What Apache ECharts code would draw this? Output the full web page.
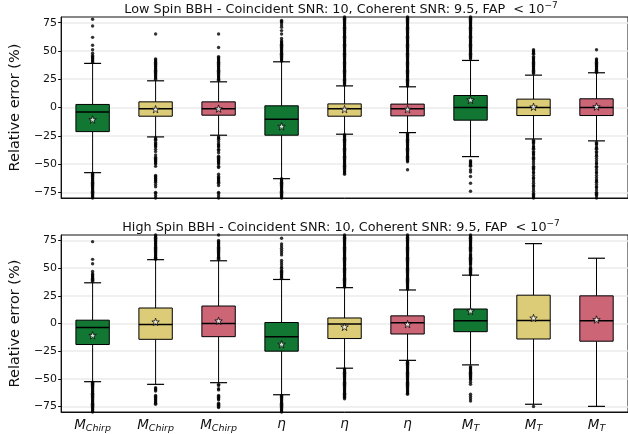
<!DOCTYPE html>
<html>
<head>
<meta charset="utf-8">
<script src="https://cdn.jsdelivr.net/npm/echarts@6/dist/echarts.min.js"></script>
<style>
html, body { margin: 0; padding: 0; background: #fff; }
#chart { width: 628px; height: 434px; }
</style>
</head>
<body>
<div id="chart"></div>
<script>
// Parameter labels along the x axis
const categories = ['M_Chirp', 'M_Chirp', 'M_Chirp', 'eta', 'eta', 'eta', 'M_T', 'M_T', 'M_T'];
const yTicks = [-75, -50, -25, 0, 25, 50, 75];
const boxColors = ['#117733', '#DDCC77', '#CC6677', '#117733', '#DDCC77', '#CC6677', '#117733', '#DDCC77', '#CC6677'];

// Low spin BBH: [lower whisker, Q1, median, Q3, upper whisker]
const lowSpinBoxes = [
  [-57.6, -21.3, -3.9, 2.7, 39.0],
  [-26.0, -7.7, -1.0, 5.0, 23.6],
  [-24.5, -6.8, -1.0, 5.0, 22.7],
  [-62.9, -24.5, -10.4, 1.5, 40.4],
  [-23.6, -7.7, -1.0, 3.2, 19.1],
  [-22.2, -7.4, -1.0, 3.0, 18.3],
  [-43.4, -11.2, 0.0, 10.6, 41.6],
  [-27.8, -7.1, 0.0, 7.4, 28.6],
  [-29.5, -7.1, 0.0, 7.7, 30.7]
];
const lowSpinMeans = [-10.6, -1.5, -1.0, -16.6, -1.5, -1.5, 6.7, 0.6, 0.8];
const lowSpinFliers = [
  [78, 72, 62, 55, 51, 48, 46, 45, 44, 43, 42, 41, 40,
   -58, -59, -60, -61, -62, -63, -64, -65, -66, -67, -68, -69, -70, -71, -72, -73, -74, -75, -76, -77, -78, -79, -80],
  [65, 43, 42, 41, 40, 39, 38, 37, 36, 35, 34, 33, 32, 31, 30, 29, 28, 27, 26, 25,
   -27, -28, -29, -31, -32, -33, -34, -35, -37, -39, -42, -44, -45, -46, -47, -48, -49, -50, -52,
   -60, -61, -62, -63, -64, -65, -66, -68, -70, -75, -76, -78, -80],
  [65, 53, 45, 44, 43, 42, 41, 40, 39, 38, 37, 36, 35, 34, 33, 32, 31, 30, 29, 28, 27, 26, 25, 24,
   -26, -27, -28, -30, -32, -33, -34, -35, -37, -38, -40, -43, -44, -45, -46, -47, -48, -49, -50, -52, -53,
   -59, -61, -62, -63, -64, -65, -66, -67, -69, -75, -76, -78, -80],
  [77, 76, 75, 73, 71, 68, 65, 61, 59, 58, 57, 56, 55, 54, 53, 52, 51, 50, 49, 48, 47, 46, 45, 44, 43, 42, 41,
   -63, -64, -65, -66, -67, -68, -69, -70, -71, -72, -73, -74, -75, -76, -77, -78, -79, -80],
  [20, 21, 22, 23, 24, 25, 26, 27, 28, 29, 30, 31, 32, 33, 34, 35, 36, 37, 38, 39, 40, 41, 42, 43, 44, 45,
   46, 47, 48, 49, 50, 51, 52, 53, 54, 55, 56, 57, 58, 59, 60, 61, 62, 63, 64, 65, 66, 67, 68, 69, 70,
   71, 72, 73, 74, 75, 76, 77, 78, 79, 80,
   -24, -25, -26, -27, -28, -29, -30, -31, -32, -33, -34, -35, -36, -37, -38, -39, -40, -41, -42, -43,
   -44, -45, -46, -47, -48, -49, -50, -51, -52, -53, -54, -55, -56, -57, -58, -59],
  [19, 20, 21, 22, 23, 24, 25, 26, 27, 28, 29, 30, 31, 32, 33, 34, 35, 36, 37, 38, 39, 40, 41, 42, 43, 44,
   45, 46, 47, 48, 49, 50, 51, 52, 53, 54, 55, 56, 57, 58, 59, 60, 61, 62, 63, 64, 65, 66, 67, 68, 69, 70,
   71, 72, 73, 74, 75, 76, 77, 78, 79, 80,
   -23, -24, -25, -26, -27, -28, -29, -30, -31, -32, -33, -34, -35, -36, -37, -38, -39, -40, -41, -42,
   -43, -44, -45, -46, -47, -48, -55],
  [43, 44, 45, 46, 47, 48, 49, 50, 51, 52, 53, 54, 55, 56, 57, 58, 59, 60, 61, 62, 63, 64, 65, 66, 67, 68,
   69, 70, 71, 72, 73, 74, 75, 76, 77, 78, 79, 80,
   -47, -48, -49, -50, -51, -52, -55, -57, -61, -67, -74],
  [51, 50, 49, 48, 47, 45, 44, 43, 42, 41, 40, 39, 38, 37, 36, 35, 34, 33, 32, 31, 30,
   -29, -30, -31, -32, -34, -35, -36, -37, -39, -40, -41, -42, -44, -45, -46, -48, -50, -52, -53, -54,
   -55, -57, -58, -60, -62, -63, -65, -67, -69, -70, -72, -74, -76, -77, -78, -79, -80],
  [51, 43, 42, 41, 40, 39, 38, 37, 36, 35, 34, 33, 32, 31,
   -31, -32, -33, -35, -36, -37, -39, -40, -42, -43, -45, -47, -49, -50, -52, -53, -55, -57, -58, -60,
   -62, -64, -65, -66, -68, -70, -71, -73, -75, -76, -77, -78, -80]
];

// High spin BBH: [lower whisker, Q1, median, Q3, upper whisker]
const highSpinBoxes = [
  [-52.6, -19.0, -3.6, 3.0, 36.8],
  [-55.0, -14.3, -0.9, 14.0, 57.7],
  [-53.5, -11.9, 0.0, 15.8, 56.7],
  [-64.4, -25.0, -11.9, 0.9, 39.8],
  [-40.4, -13.6, -0.5, 5.0, 32.4],
  [-33.3, -9.5, 0.6, 6.9, 30.3],
  [-37.4, -7.4, 2.4, 13.1, 43.7],
  [-73.0, -14.0, 2.7, 25.6, 72.2],
  [-74.9, -16.0, 2.4, 25.0, 59.0]
];
const highSpinMeans = [-10.7, 1.5, 2.4, -18.7, -3.0, -0.6, 11.3, 5.0, 3.6];
const highSpinFliers = [
  [74, 58, 54, 47, 45, 44, 43, 42, 41, 40, 39, 38,
   -53, -54, -55, -56, -57, -58, -59, -60, -61, -62, -63, -64, -65, -66, -67, -68, -69, -70, -71, -72,
   -73, -74, -75, -76, -77, -78, -79, -80],
  [58, 59, 60, 61, 62, 63, 64, 65, 66, 67, 68, 69, 70, 71, 72, 73, 74, 75, 76, 77, 78, 79, 80,
   -58, -59, -60, -61, -65, -66, -67, -68, -69, -70, -71, -72, -73],
  [58, 59, 60, 61, 62, 63, 64, 65, 66, 67, 68, 69, 70, 71, 72, 73, 74, 75, 80,
   -55, -56, -59, -60, -65, -66, -67, -68, -69, -72, -73, -74, -75, -76],
  [77, 72, 70, 68, 66, 64, 62, 57, 55, 53, 51, 50, 48, 47, 46, 45, 44, 43, 42, 41,
   -65, -66, -67, -68, -69, -70, -71, -72, -73, -74, -75, -76, -77, -78, -79, -80],
  [33, 34, 35, 36, 37, 38, 39, 40, 41, 42, 43, 44, 45, 46, 47, 48, 49, 50, 51, 52, 53, 54, 55, 56, 57, 58,
   59, 60, 61, 62, 63, 64, 65, 66, 67, 68, 69, 70, 71, 72, 73, 74, 75, 76, 77, 78, 79, 80,
   -41, -42, -43, -44, -45, -46, -47, -48, -49, -50, -51, -52, -53, -54, -55, -56, -57, -58, -59, -60,
   -61, -62, -63, -64, -65, -66, -67, -68],
  [31, 32, 33, 34, 35, 36, 37, 38, 39, 40, 41, 42, 43, 44, 45, 46, 47, 48, 49, 50, 51, 52, 53, 54, 55, 56,
   57, 58, 59, 60, 61, 62, 63, 64, 65, 66, 67, 68, 69, 70, 71, 72, 73, 74, 75, 76, 77, 78, 79, 80,
   -34, -35, -36, -37, -38, -39, -40, -41, -42, -43, -44, -45, -46, -47, -48, -49, -50, -51, -52, -53,
   -54, -55, -56, -57, -58, -59, -60, -61, -62, -63, -64],
  [44, 45, 46, 47, 48, 49, 50, 51, 53, 54, 55, 56, 57, 58, 59, 60, 61, 62, 63, 65, 66, 67, 68, 69, 70,
   71, 72, 73, 74, 75, 76, 77, 78, 79, 80,
   -39, -40, -41, -42, -43, -44, -45, -46, -47, -48, -49, -50, -51, -53, -55, -64, -66, -68, -70],
  [-75],
  []
];

const FONT = 'DejaVu Sans';
const STAR = 'path://M50,0 L61.8,35.3 L98.9,35.3 L68.9,57.1 L80.3,92.7 L50,70.9 L19.7,92.7 L31.1,57.1 L1.1,35.3 L38.2,35.3 Z';

function boxRenderer(colors) {
  return function (params, api) {
    const i = api.value(0);
    const band = api.size([1, 0])[0];
    const boxW = band * 0.53;
    const capW = band * 0.27;
    const lo = api.coord([i, api.value(1)]);
    const q1 = api.coord([i, api.value(2)]);
    const md = api.coord([i, api.value(3)]);
    const q3 = api.coord([i, api.value(4)]);
    const hi = api.coord([i, api.value(5)]);
    const cx = lo[0];
    const seg = (x1, y1, x2, y2, w) => ({
      type: 'line', shape: { x1, y1, x2, y2 }, style: { stroke: '#000', lineWidth: w }
    });
    return {
      type: 'group',
      children: [
        seg(cx, q3[1], cx, hi[1], 1),
        seg(cx, q1[1], cx, lo[1], 1),
        seg(cx - capW / 2, hi[1], cx + capW / 2, hi[1], 1.2),
        seg(cx - capW / 2, lo[1], cx + capW / 2, lo[1], 1.2),
        {
          type: 'rect',
          shape: { x: cx - boxW / 2, y: q3[1], width: boxW, height: q1[1] - q3[1] },
          style: { fill: colors[params.dataIndex], stroke: '#000', lineWidth: 1 }
        },
        seg(cx - boxW / 2, md[1], cx + boxW / 2, md[1], 1.5)
      ]
    };
  };
}

function panelSeries(axisIdx, boxes, means, fliers) {
  const flierPoints = [];
  fliers.forEach((vals, i) => vals.forEach(v => flierPoints.push([i, v])));
  return [
    {
      type: 'custom', xAxisIndex: axisIdx, yAxisIndex: axisIdx,
      renderItem: boxRenderer(boxColors),
      encode: { x: 0, y: [1, 2, 3, 4, 5] },
      data: boxes.map((b, i) => [i].concat(b)),
      z: 2
    },
    {
      type: 'scatter', xAxisIndex: axisIdx, yAxisIndex: axisIdx,
      symbol: 'circle', symbolSize: 3.4,
      itemStyle: { color: '#000' },
      data: flierPoints, silent: true, z: 3
    },
    {
      type: 'scatter', xAxisIndex: axisIdx, yAxisIndex: axisIdx,
      symbol: STAR, symbolSize: 7.5,
      itemStyle: { color: '#fff', borderColor: '#000', borderWidth: 0.9 },
      data: means.map((m, i) => [i, m]), silent: true, z: 4
    }
  ];
}

const xLabelRich = {
  m: { fontFamily: FONT, fontStyle: 'italic', fontSize: 13.5, color: '#111' },
  s: { fontFamily: FONT, fontStyle: 'italic', fontSize: 9.5, color: '#111', padding: [7, 0, 0, 0] }
};
function xLabel(name) {
  if (name === 'M_Chirp') return '{m|M}{s|Chirp}';
  if (name === 'M_T') return '{m|M}{s|T}';
  return '{m|\u03b7}';
}

function yAxisFor(gridIndex) {
  return {
    type: 'value', gridIndex, min: -80, max: 80,
    name: 'Relative error (%)', nameLocation: 'middle', nameGap: 35,
    nameTextStyle: { fontFamily: FONT, fontSize: 14.5, color: '#111' },
    axisLine: { show: true, lineStyle: { color: '#111', width: 1 } },
    axisTick: { show: true, length: 3, customValues: yTicks, lineStyle: { color: '#111' } },
    axisLabel: {
      customValues: yTicks, margin: 4, fontFamily: FONT, fontSize: 11, color: '#111',
      formatter: v => (v < 0 ? '\u2212' + (-v) : String(v))
    },
    splitLine: { show: true, lineStyle: { color: '#ebebeb', width: 1.5 } }
  };
}

function xAxisFor(gridIndex, showLabels) {
  return {
    type: 'category', gridIndex, data: categories,
    axisLine: { show: true, onZero: false, lineStyle: { color: '#111', width: 1 } },
    axisTick: { show: false },
    axisLabel: {
      show: showLabels, margin: 5, interval: 0,
      formatter: xLabel, rich: xLabelRich
    },
    splitLine: { show: false }
  };
}

const titleRich = {
  sup: { fontFamily: FONT, fontSize: 9, color: '#111', padding: [0, 0, 8, 0] }
};
function titleFor(text, top) {
  return {
    text: text + '{sup|\u22127}',
    left: 341, top, textAlign: 'center', padding: 0,
    textStyle: { fontFamily: FONT, fontSize: 12.8, fontWeight: 'normal', color: '#111', rich: titleRich }
  };
}

const chart = echarts.init(document.getElementById('chart'), null, { renderer: 'canvas' });
chart.setOption({
  animation: false,
  backgroundColor: '#fff',
  title: [
    titleFor('Low Spin BBH - Coincident SNR: 10, Coherent SNR: 9.5, FAP  < 10', 1),
    titleFor('High Spin BBH - Coincident SNR: 10, Coherent SNR: 9.5, FAP  < 10', 219)
  ],
  grid: [
    { left: 53, right: 0, top: 17, height: 181, show: true, borderColor: '#111', borderWidth: 1, backgroundColor: 'transparent' },
    { left: 53, right: 0, top: 235, height: 180, show: true, borderColor: '#111', borderWidth: 1, backgroundColor: 'transparent' }
  ],
  xAxis: [xAxisFor(0, false), xAxisFor(1, true)],
  yAxis: [yAxisFor(0), yAxisFor(1)],
  series: [].concat(
    panelSeries(0, lowSpinBoxes, lowSpinMeans, lowSpinFliers),
    panelSeries(1, highSpinBoxes, highSpinMeans, highSpinFliers)
  )
});
</script>
</body>
</html>
